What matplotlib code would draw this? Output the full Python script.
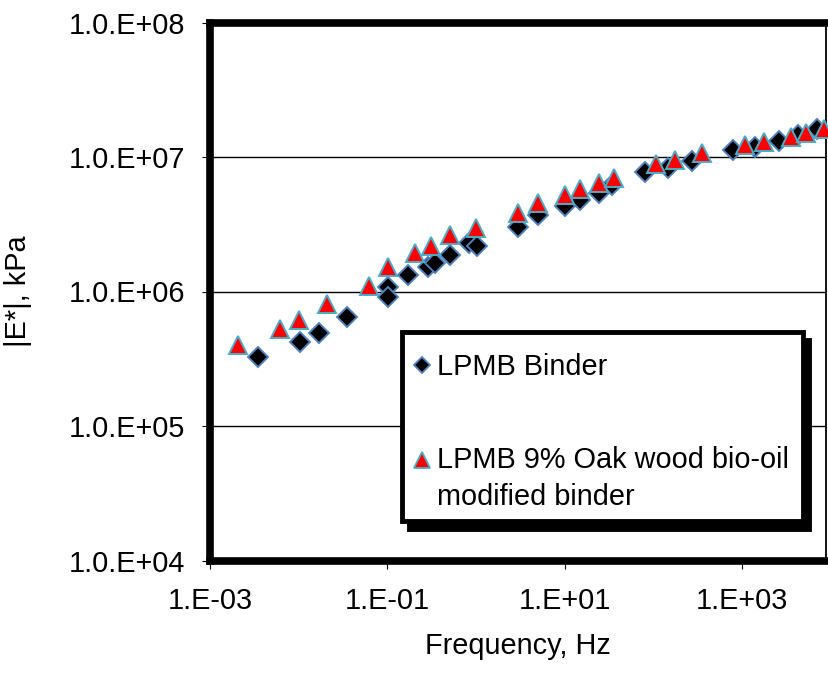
import matplotlib
matplotlib.use("Agg")
import matplotlib.pyplot as plt
from matplotlib.patches import Rectangle

# ---- data ----
freq_lpmb = [0.00352, 0.0104, 0.0171, 0.0349, 0.1026, 0.1026, 0.172, 0.290, 0.345,
             0.509, 0.840, 1.033, 2.99, 4.95, 10.05, 14.8, 24.5, 33.7, 80.1, 146.6,
             269, 792, 1390, 2594, 4276, 6887]
e_lpmb = [3.24e5, 4.18e5, 4.89e5, 6.46e5, 1.089e6, 9.06e5, 1.327e6, 1.529e6, 1.637e6,
          1.868e6, 2.282e6, 2.18e6, 3.00e6, 3.70e6, 4.32e6, 4.79e6, 5.37e6, 6.19e6,
          7.78e6, 8.24e6, 9.33e6, 1.127e7, 1.193e7, 1.315e7, 1.469e7, 1.615e7]

freq_bio = [0.00206, 0.00618, 0.0102, 0.0207, 0.0614, 0.1026, 0.205, 0.308, 0.509,
            1.0, 2.99, 4.95, 10.05, 14.8, 24.5, 35.8, 105.7, 174.6, 349, 1059,
            1757, 3491, 5224, 8433]
e_bio = [3.97e5, 5.26e5, 6.19e5, 8.14e5, 1.108e6, 1.529e6, 1.923e6, 2.18e6, 2.63e6,
         2.95e6, 3.85e6, 4.53e6, 5.22e6, 5.75e6, 6.38e6, 6.95e6, 8.87e6, 9.50e6,
         1.065e7, 1.228e7, 1.300e7, 1.408e7, 1.50e7, 1.62e7]

series_labels = ["LPMB Binder", "LPMB 9% Oak wood bio-oil\nmodified binder"]
x_ticks = [1e-3, 1e-1, 1e1, 1e3]
x_tick_labels = ["1.E-03", "1.E-01", "1.E+01", "1.E+03"]
y_ticks = [1e4, 1e5, 1e6, 1e7, 1e8]
y_tick_labels = ["1.0.E+04", "1.0.E+05", "1.0.E+06", "1.0.E+07", "1.0.E+08"]

plt.rcParams['font.family'] = ['Liberation Sans', 'DejaVu Sans']
FS = 20.8

fig = plt.figure(figsize=(8.29, 6.85), dpi=100)
ax = fig.add_axes([210 / 829, (685 - 560.5) / 685, (826 - 210) / 829, (560.5 - 22.5) / 685])

ax.set_xscale('log')
ax.set_yscale('log')
ax.set_xlim(1e-3, 10 ** 3.943)
ax.set_ylim(1e4, 1e8)

ax.yaxis.grid(True, which='major', color='black', linewidth=1.0)
ax.set_axisbelow(True)

ax.plot(freq_lpmb, e_lpmb, linestyle='none', marker='D', markersize=9.8,
        markerfacecolor='black', markeredgecolor='#4F81BD', markeredgewidth=1.4,
        clip_on=False, zorder=3)
ax.plot(freq_bio, e_bio, linestyle='none', marker='^', markersize=13,
        markerfacecolor='#FF0000', markeredgecolor='#4BACC6', markeredgewidth=1.4,
        clip_on=False, zorder=4)

ax.set_xticks(x_ticks)
ax.set_xticklabels(x_tick_labels)
ax.set_yticks(y_ticks)
ax.set_yticklabels(y_tick_labels)
ax.minorticks_off()
ax.tick_params(axis='both', which='major', direction='out', length=6, width=0.8,
               labelsize=FS, pad=12, color='black')
ax.tick_params(axis='x', pad=13)

for side in ['top', 'left', 'bottom']:
    ax.spines[side].set_linewidth(5.5)
    ax.spines[side].set_color('black')
ax.spines['right'].set_linewidth(1.3)
ax.spines['right'].set_color('black')

ax.set_xlabel("Frequency, Hz", fontsize=FS, labelpad=12)
ax.set_ylabel("|E*|, kPa", fontsize=FS, labelpad=26)

# ---- legend (drawn by hand to keep Excel-like layout) ----
bx0, bx1, by0, by1 = 0.3122, 0.9622, 0.0734, 0.4242
sdx, sdy = 0.0106, 0.0149
ax.add_patch(Rectangle((bx0 + sdx, by0 - sdy), bx1 - bx0, by1 - by0, transform=ax.transAxes,
                       facecolor='black', edgecolor='black', linewidth=3.5,
                       clip_on=False, zorder=8))
ax.add_patch(Rectangle((bx0, by0), bx1 - bx0, by1 - by0, transform=ax.transAxes,
                       facecolor='white', edgecolor='black', linewidth=3.5,
                       clip_on=False, zorder=9))
mx = 0.3437
ax.plot([mx], [0.3634], transform=ax.transAxes, linestyle='none', marker='D',
        markersize=8.4, markerfacecolor='black', markeredgecolor='#4F81BD',
        markeredgewidth=1.3, clip_on=False, zorder=10)
ax.plot([mx], [0.1868], transform=ax.transAxes, linestyle='none', marker='^',
        markersize=11.5, markerfacecolor='#FF0000', markeredgecolor='#4BACC6',
        markeredgewidth=1.3, clip_on=False, zorder=10)
tx = 0.3680
ax.text(tx, 0.3600, series_labels[0], transform=ax.transAxes, fontsize=FS,
        ha='left', va='center', zorder=11)
ax.text(tx, 0.1530, series_labels[1], transform=ax.transAxes, fontsize=FS,
        ha='left', va='center', linespacing=1.4, zorder=11)

fig.savefig("out.png", dpi=100)
